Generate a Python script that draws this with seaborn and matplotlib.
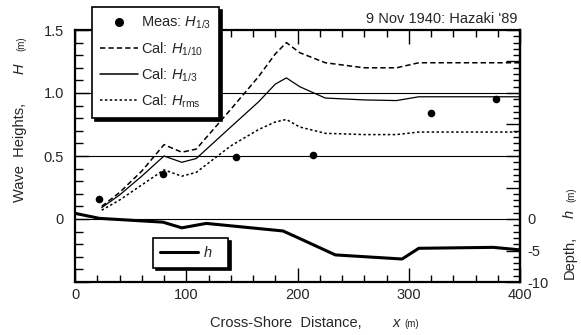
import numpy as np
import pandas as pd
import matplotlib
matplotlib.use("Agg")
import matplotlib.pyplot as plt
import seaborn as sns
from matplotlib.ticker import MultipleLocator, FixedLocator, FixedFormatter
from matplotlib.lines import Line2D

# ---------------- data ----------------
meas_x = [22, 79, 145, 214, 320, 378]
meas_h13 = [0.16, 0.36, 0.49, 0.51, 0.84, 0.95]

cal_x = [24, 40, 60, 80, 96, 109, 140, 165, 180, 190, 202, 225, 260, 289, 309, 340, 400]
cal_h110 = [0.10, 0.21, 0.38, 0.59, 0.53, 0.555, 0.87, 1.13, 1.31, 1.40, 1.32, 1.24, 1.20, 1.20, 1.24, 1.24, 1.24]
cal_h13 = [0.09, 0.19, 0.34, 0.50, 0.45, 0.48, 0.73, 0.93, 1.07, 1.12, 1.05, 0.96, 0.945, 0.94, 0.97, 0.97, 0.97]
cal_hrms = [0.07, 0.15, 0.27, 0.39, 0.34, 0.37, 0.58, 0.71, 0.77, 0.79, 0.73, 0.68, 0.67, 0.67, 0.69, 0.69, 0.69]

bed_x = [0, 22, 79, 96, 118, 187, 202, 234, 294, 309, 376, 400]
bed_z = [0.9, 0.1, -0.5, -1.4, -0.7, -1.9, -3.1, -5.7, -6.35, -4.65, -4.5, -4.9]

left_ticks = [-0.5, 0, 0.5, 1.0, 1.5]
left_labels = ["", "0", "0.5", "1.0", "1.5"]
right_ticks = [-10, -5, 0, 5, 10, 15, 20, 25, 30]
right_labels = ["-10", "-5", "0", "", "", "", "", "", ""]

title = "9 Nov 1940: Hazaki '89"

# ---------------- style ----------------
sns.set_style("white")
plt.rcParams["font.family"] = ["Liberation Sans", "DejaVu Sans"]
plt.rcParams["mathtext.fontset"] = "custom"
plt.rcParams["mathtext.rm"] = "Liberation Sans"
plt.rcParams["mathtext.it"] = "Liberation Sans:italic"
plt.rcParams["axes.unicode_minus"] = False

FS = 10.5
FSM = 7
W, H = 581, 335
fig = plt.figure(figsize=(W / 100, H / 100), dpi=100)
ax = fig.add_axes([75 / W, 1 - 282 / H, 445 / W, 252 / H])
ax2 = ax.twinx()

# ---------------- marks ----------------
sns.lineplot(x=cal_x, y=cal_h110, ax=ax, color="k", linewidth=1.1,
             linestyle=(0, (3.5, 2)), sort=False, estimator=None)
sns.lineplot(x=cal_x, y=cal_h13, ax=ax, color="k", linewidth=0.9,
             sort=False, estimator=None)
sns.lineplot(x=cal_x, y=cal_hrms, ax=ax, color="k", linewidth=1.1,
             linestyle=(0, (1.6, 1.6)), sort=False, estimator=None)
sns.scatterplot(x=meas_x, y=meas_h13, ax=ax, color="k", s=30, edgecolor="k",
                linewidth=0, zorder=4)
for yv in [0, 0.5, 1.0]:
    ax.axhline(yv, color="k", linewidth=0.8, zorder=1)

sns.lineplot(x=bed_x, y=bed_z, ax=ax2, color="k", linewidth=2.2,
             sort=False, estimator=None)

# ---------------- axes ----------------
ax.set_xlim(0, 400)
ax.set_ylim(-0.5, 1.5)
ax2.set_ylim(-10, 30)
ax.set_xlabel("")
ax.set_ylabel("")
ax2.set_ylabel("")

ax.xaxis.set_major_locator(MultipleLocator(100))
ax.xaxis.set_minor_locator(MultipleLocator(20))
ax.yaxis.set_major_locator(FixedLocator(left_ticks))
ax.yaxis.set_major_formatter(FixedFormatter(left_labels))
ax.yaxis.set_minor_locator(MultipleLocator(0.1))
ax2.yaxis.set_major_locator(FixedLocator(right_ticks))
ax2.yaxis.set_major_formatter(FixedFormatter(right_labels))
ax2.yaxis.set_minor_locator(MultipleLocator(1))

ax.tick_params(axis="x", which="both", direction="in", top=True, bottom=True,
               labelsize=FS, pad=4, width=1, color="k")
ax.tick_params(axis="x", which="major", length=10)
ax.tick_params(axis="x", which="minor", length=5)
ax.tick_params(axis="y", which="both", direction="in", left=True, right=False,
               labelsize=FS, pad=8, width=1, color="k")
ax.tick_params(axis="y", which="major", length=10)
ax.tick_params(axis="y", which="minor", length=6)
ax2.tick_params(axis="y", which="both", direction="in", right=True, left=False,
                labelsize=FS, pad=5, width=1, color="k")
ax2.tick_params(axis="y", which="major", length=10)
ax2.tick_params(axis="y", which="minor", length=5)

for sp in ax.spines.values():
    sp.set_linewidth(1.6)
    sp.set_color("k")
for name, sp in ax2.spines.items():
    if name == "right":
        sp.set_linewidth(1.6)
        sp.set_color("k")
    else:
        sp.set_visible(False)

# ---------------- legends ----------------
handles = [
    Line2D([], [], color="k", marker="o", markersize=5.5, linestyle="none"),
    Line2D([], [], color="k", linewidth=1.1, linestyle=(0, (3.5, 2))),
    Line2D([], [], color="k", linewidth=1.1),
    Line2D([], [], color="k", linewidth=1.1, linestyle=(0, (1.6, 1.6))),
]
labels = [r"Meas: $H_{\mathrm{1/3}}$", r"Cal: $H_{\mathrm{1/10}}$",
          r"Cal: $H_{\mathrm{1/3}}$", r"Cal: $H_{\mathrm{rms}}$"]
leg1 = ax2.legend(handles, labels, loc="upper left",
                  bbox_to_anchor=(92 / W, 1 - 7 / H), bbox_transform=fig.transFigure,
                  frameon=True, fancybox=False, shadow={"color": "k", "alpha": 1},
                  edgecolor="k", framealpha=1, fontsize=FS, handlelength=2.6,
                  handletextpad=0.2, labelspacing=0.6, borderpad=0.55,
                  borderaxespad=0)
leg1.get_frame().set_linewidth(1.2)
ax2.add_artist(leg1)

leg2 = ax2.legend([Line2D([], [], color="k", linewidth=2.2)], [r"$h$   "],
                  loc="upper left", bbox_to_anchor=(153 / W, 1 - 238 / H),
                  bbox_transform=fig.transFigure, frameon=True, fancybox=False,
                  shadow={"color": "k", "alpha": 1}, edgecolor="k", framealpha=1,
                  fontsize=FS, handlelength=2.6, handletextpad=0.3,
                  borderpad=0.5, borderaxespad=0)
leg2.get_frame().set_linewidth(1.2)

# ---------------- texts ----------------
fig.text(518 / W, 1 - 23 / H, title, ha="right", va="baseline", fontsize=FS)

# x label
fig.text(210 / W, 1 - 327 / H, "Cross-Shore  Distance,", ha="left",
         va="baseline", fontsize=FS)
fig.text(393 / W, 1 - 327 / H, "x", ha="left", va="baseline",
         fontsize=FS, style="italic")
fig.text(404 / W, 1 - 327 / H, "(m)", ha="left", va="baseline", fontsize=FSM)

# y label (left)
fig.text(20 / W, 1 - 202 / H, "Wave  Heights,", rotation=90, ha="center",
         va="bottom", fontsize=FS)
fig.text(20 / W, 1 - 74 / H, "H", rotation=90, ha="center", va="bottom",
         fontsize=FS, style="italic")
fig.text(21 / W, 1 - 51 / H, "(m)", rotation=90, ha="center", va="bottom",
         fontsize=FSM)

# y label (right)
fig.text(570 / W, 1 - 279 / H, "Depth,", rotation=90, ha="center",
         va="bottom", fontsize=FS)
fig.text(570 / W, 1 - 218 / H, "h", rotation=90, ha="center", va="bottom",
         fontsize=FS, style="italic")
fig.text(571 / W, 1 - 202 / H, "(m)", rotation=90, ha="center", va="bottom",
         fontsize=FSM)

fig.savefig("out.png", dpi=100)
